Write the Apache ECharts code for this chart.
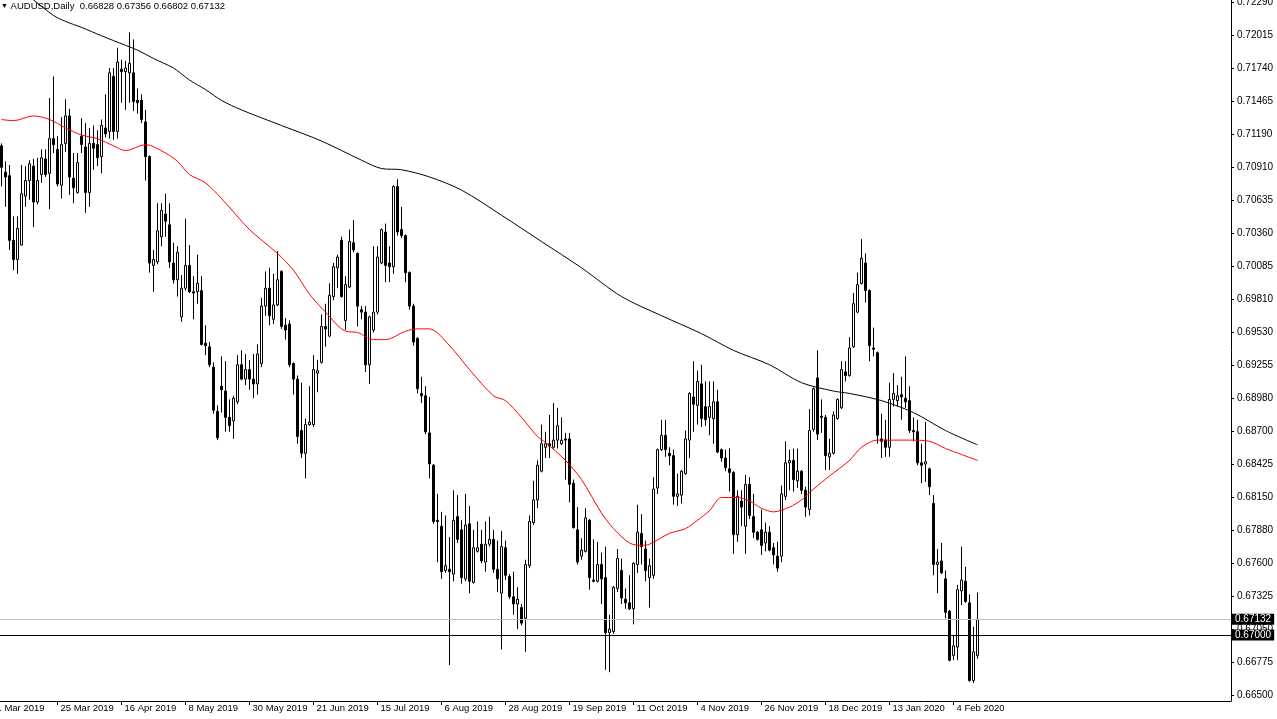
<!DOCTYPE html>
<html><head><meta charset="utf-8">
<script src="https://cdn.jsdelivr.net/npm/echarts@6/dist/echarts.min.js"></script>
<style>html,body{margin:0;padding:0;background:#fff}#c{width:1277px;height:719px}</style>
</head><body><div id="c"></div>
<script>
const symbolName = 'AUDUSD,Daily';
const lastOHLC = [0.66828, 0.67356, 0.66802, 0.67132];

const opens = [.7109,.7087,.7084,.7030,.7014,.7026,.7067,.7080,.7092,.7062,.7085,.7098,.7086,.7115,.7106,.7076,.7111,.7134,.7082,.7070,
.7117,.7108,.7070,.7111,.7110,.7100,.7124,.7121,.7167,.7121,.7173,.7171,.7170,.7170,.7147,.7147,.7129,.7100,.7009,.7012,
.7033,.7052,.7043,.7011,.6997,.6966,.6990,.7009,.6987,.6987,.6988,.6944,.6941,.6924,.6887,.6908,.6904,.6882,.6879,.6895,
.6926,.6914,.6922,.6914,.6910,.6927,.6975,.6990,.6964,.6976,.7004,.6959,.6960,.6927,.6914,.6871,.6852,.6876,.6876,.6919,
.6928,.6958,.6950,.6983,.7007,.7030,.6963,.6991,.7028,.7019,.6972,.6970,.6926,.6955,.6970,.7011,.7037,.7011,.7008,.7075,
.7039,.7034,.7003,.6975,.6948,.6902,.6900,.6869,.6842,.6796,.6791,.6754,.6755,.6751,.6799,.6788,.6747,.6793,.6744,.6770,
.6776,.6761,.6776,.6780,.6755,.6735,.6773,.6749,.6732,.6726,.6723,.6714,.6758,.6794,.6813,.6837,.6857,.6860,.6857,.6863,
.6860,.6864,.6864,.6827,.6788,.6766,.6770,.6796,.6746,.6745,.6759,.6748,.6702,.6703,.6739,.6754,.6730,.6727,.6722,.6759,
.6785,.6772,.6748,.6750,.6823,.6855,.6867,.6852,.6850,.6816,.6817,.6835,.6863,.6899,.6892,.6910,.6891,.6882,.6881,.6895,
.6855,.6848,.6839,.6836,.6784,.6812,.6791,.6826,.6799,.6786,.6788,.6777,.6786,.6773,.6766,.6766,.6816,.6844,.6846,.6829,
.6837,.6821,.6805,.6872,.6915,.6883,.6882,.6849,.6852,.6881,.6890,.6920,.6917,.6941,.6970,.6994,.7011,.6988,.6940,.6936,
.6864,.6863,.6857,.6897,.6896,.6901,.6898,.6896,.6871,.6870,.6844,.6843,.6839,.6810,.6759,.6762,.6747,.6720,.6683,.6690,
.6737,.6745,.6727,.6662,.66828];
const highs = [.7111,.7096,.7093,.7050,.7050,.7093,.7092,.7097,.7098,.7099,.7106,.7106,.7149,.7167,.7117,.7133,.7148,.7140,.7103,.7103,
.7132,.7128,.7124,.7126,.7122,.7131,.7152,.7174,.7174,.7191,.7181,.7180,.7204,.7198,.7157,.7152,.7139,.7101,.7022,.7061,
.7061,.7069,.7061,.7028,.7025,.7001,.7048,.7026,.7000,.7018,.7000,.6959,.6945,.6928,.6892,.6933,.6929,.6897,.6900,.6934,
.6938,.6935,.6930,.6935,.6943,.6982,.7004,.7007,.7002,.7021,.7005,.6965,.6963,.6928,.6917,.6911,.6881,.6908,.6934,.6930,
.6968,.6977,.6994,.7011,.7018,.7033,.7000,.7039,.7047,.7020,.6975,.6975,.6967,.7025,.7025,.7040,.7044,.7025,.7076,.7081,
.7058,.7035,.7004,.6977,.6949,.6916,.6908,.6899,.6843,.6818,.6803,.6800,.6782,.6821,.6817,.6796,.6818,.6808,.6788,.6795,
.6788,.6795,.6799,.6788,.6779,.6787,.6779,.6751,.6753,.6740,.6726,.6763,.6800,.6829,.6846,.6876,.6870,.6884,.6894,.6890,
.6882,.6869,.6869,.6830,.6807,.6781,.6806,.6797,.6780,.6778,.6769,.6774,.6717,.6741,.6772,.6764,.6739,.6750,.6761,.6809,
.6801,.6779,.6764,.6832,.6856,.6880,.6880,.6857,.6855,.6835,.6838,.6871,.6903,.6929,.6921,.6926,.6912,.6912,.6912,.6905,
.6856,.6855,.6856,.6837,.6821,.6821,.6834,.6832,.6818,.6787,.6805,.6794,.6791,.6777,.6778,.6825,.6862,.6855,.6856,.6856,
.6838,.6824,.6889,.6907,.6938,.6897,.6884,.6864,.6887,.6898,.6929,.6929,.6949,.6986,.7003,.7031,.7019,.6989,.6957,.6937,
.6885,.6880,.6911,.6919,.6909,.6916,.6933,.6908,.6882,.6880,.6860,.6878,.6840,.6817,.6772,.6777,.6754,.6721,.6700,.6742,
.6774,.6757,.6734,.6707,.67356];
const lows = [.7075,.7058,.7022,.7005,.7002,.7026,.7058,.7064,.7041,.7060,.7078,.7083,.7056,.7103,.7075,.7065,.7104,.7068,.7061,.7069,
.7103,.7053,.7058,.7089,.7092,.7086,.7116,.7115,.7114,.7115,.7145,.7139,.7145,.7138,.7136,.7128,.7080,.7003,.6987,.7010,
.7025,.7033,.7007,.6994,.6983,.6962,.6988,.6986,.6964,.6977,.6942,.6934,.6924,.6885,.6863,.6886,.6870,.6870,.6864,.6893,
.6913,.6909,.6905,.6898,.6901,.6924,.6967,.6959,.6960,.6975,.6956,.6947,.6924,.6901,.6860,.6848,.6831,.6875,.6874,.6903,
.6927,.6941,.6949,.6980,.6990,.6982,.6955,.6990,.7020,.6958,.6964,.6920,.6910,.6953,.6968,.7010,.6995,.6995,.7002,.7034,
.7032,.6995,.6972,.6942,.6902,.6894,.6868,.6831,.6793,.6761,.6747,.6752,.6675,.6745,.6777,.6743,.6745,.6735,.6743,.6769,
.6760,.6753,.6774,.6752,.6736,.6688,.6746,.6730,.6717,.6705,.6708,.6686,.6756,.6792,.6806,.6836,.6848,.6848,.6856,.6856,
.6859,.6830,.6811,.6789,.6759,.6763,.6769,.6738,.6744,.6744,.6726,.6671,.6669,.6701,.6736,.6726,.6722,.6721,.6709,.6752,
.6759,.6745,.6723,.6747,.6818,.6854,.6849,.6842,.6809,.6808,.6810,.6834,.6848,.6870,.6876,.6874,.6875,.6867,.6860,.6852,
.6845,.6837,.6820,.6768,.6778,.6791,.6768,.6797,.6781,.6779,.6767,.6770,.6770,.6759,.6753,.6761,.6813,.6821,.6820,.6823,
.6818,.6799,.6800,.6870,.6863,.6869,.6838,.6838,.6851,.6880,.6889,.6912,.6916,.6940,.6969,.6993,.6978,.6929,.6933,.6860,
.6848,.6849,.6849,.6891,.6891,.6880,.6890,.6869,.6862,.6842,.6827,.6828,.6817,.6750,.6735,.6751,.6714,.6678,.6679,.6679,
.6725,.6727,.6661,.6660,.66802];
const closes = [.7091,.7083,.7030,.7014,.7040,.7069,.7080,.7094,.7062,.7080,.7099,.7085,.7115,.7110,.7077,.7110,.7134,.7083,.7074,.7095,
.7110,.7070,.7111,.7107,.7099,.7126,.7119,.7170,.7121,.7179,.7171,.7174,.7178,.7146,.7145,.7131,.7100,.7011,.7014,.7038,
.7055,.7046,.7012,.6997,.7020,.6990,.7009,.6987,.6986,.6994,.6943,.6942,.6926,.6888,.6865,.6905,.6882,.6875,.6898,.6926,
.6914,.6922,.6914,.6910,.6935,.6975,.6990,.6967,.6976,.6997,.6958,.6955,.6926,.6914,.6866,.6852,.6876,.6878,.6922,.6921,
.6958,.6956,.6984,.7008,.7016,.6983,.6993,.7029,.7022,.6975,.6970,.6926,.6966,.6970,.7016,.7039,.7009,.7008,.7075,.7037,
.7034,.7003,.6975,.6945,.6906,.6900,.6870,.6843,.6795,.6795,.6753,.6758,.6753,.6796,.6780,.6748,.6792,.6745,.6773,.6773,
.6762,.6776,.6780,.6755,.6747,.6774,.6750,.6732,.6726,.6730,.6710,.6759,.6795,.6813,.6842,.6860,.6860,.6858,.6863,.6875,
.6863,.6863,.6826,.6790,.6761,.6771,.6798,.6748,.6745,.6759,.6747,.6702,.6705,.6740,.6764,.6731,.6727,.6722,.6760,.6786,
.6774,.6754,.6758,.6822,.6855,.6867,.6855,.6850,.6816,.6818,.6837,.6864,.6902,.6893,.6912,.6881,.6880,.6891,.6895,.6853,
.6848,.6840,.6836,.6784,.6816,.6807,.6826,.6800,.6786,.6780,.6775,.6786,.6771,.6767,.6756,.6818,.6844,.6846,.6830,.6837,
.6821,.6807,.6871,.6906,.6868,.6882,.6850,.6852,.6884,.6897,.6922,.6917,.6940,.6977,.6993,.7015,.6988,.6942,.6939,.6867,
.6862,.6857,.6897,.6902,.6900,.6899,.6895,.6871,.6870,.6844,.6842,.6845,.6824,.6759,.6761,.6752,.6719,.6679,.6691,.6738,
.6746,.6728,.6662,.6686,.67132];

// moving averages at sample bars (bar index, value)
const maBlackBars = [6,8,13,16,20,25,31,34,38,43,47,51,55,60,70,80,90,95,100,107,115,125,135,145,155,165,175,183,192,200,208,212,220,228,236,244];
const maBlackVals = [.7236,.7231,.7218,.7213,.7208,.7201,.7193,.7189,.7182,.7174,.7164,.7156,.7147,.7139,.7126,.7113,.7097,.7090,.7089,.7083,.7072,.7051,.7029,.7007,.6983,.6967,.6952,.6938,.6926,.6911,.6904,.6902,.6896,.6886,.6871,.6859];
const maRedBars = [0,3,8,12,16,20,24,28,31,36,41,44,47,51,55,62,69,73,77,81,86,89,93,96,101,104,107,112,117,123,126,130,134,136,141,145,150,153,157,160,162,167,171,174,177,180,184,187,190,193,197,200,203,207,212,215,219,227,232,236,240,244];
const maRedVals = [.7131,.7130,.7134,.7131,.7124,.7118,.7115,.7109,.7105,.7110,.7103,.7096,.7085,.7078,.7065,.7039,.7019,.7005,.6985,.6970,.6954,.6953,.6947,.6947,.6954,.6956,.6956,.6942,.6922,.6900,.6896,.6882,.6866,.6861,.6846,.6830,.6802,.6789,.6777,.6775,.6776,.6785,.6789,.6796,.6804,.6815,.6815,.6812,.6806,.6803,.6807,.6813,.6822,.6833,.6846,.6857,.6863,.6863,.6862,.6856,.6851,.6846];

const dateLabels = ['1 Mar 2019','25 Mar 2019','16 Apr 2019','8 May 2019','30 May 2019','21 Jun 2019','15 Jul 2019','6 Aug 2019','28 Aug 2019','19 Sep 2019','11 Oct 2019','4 Nov 2019','26 Nov 2019','18 Dec 2019','13 Jan 2020','4 Feb 2020'];
const firstLabelBar = -2, LABEL_STEP = 16;
const priceTicks = [0.72290,0.72015,0.71740,0.71465,0.71190,0.70910,0.70635,0.70360,0.70085,0.69810,0.69530,0.69255,0.68980,0.68700,0.68425,0.68150,0.67880,0.67600,0.67325,0.67050,0.66775,0.66500];
const bidPrice = 0.67132;
const levelPrice = 0.67000;

const dateBars = dateLabels.map((_, k) => firstLabelBar + k * LABEL_STEP);
const candleData = opens.map((o, i) => [i, o, closes[i], lows[i], highs[i]]);
const pairs = (bars, vals) => bars.map((b, k) => [b, vals[k]]);
const FONT = 'Liberation Sans';
const priceLabel = {show: true, position: 'end', distance: 1, formatter: p => p.value.toFixed(5),
  backgroundColor: '#000', color: '#fff', fontSize: 10, fontFamily: FONT, padding: [1, 3, 0, 3]};

// plot area: 4 px per bar
const GRID_LEFT = -8, GRID_RIGHT = 46, PX_PER_BAR = 4, X_MIN = -2.375;
const X_MAX = X_MIN + (1277 - GRID_LEFT - GRID_RIGHT) / PX_PER_BAR;

const chart = echarts.init(document.getElementById('c'), null, {renderer: 'canvas'});
chart.setOption({
  animation: false,
  backgroundColor: '#ffffff',
  title: {
    text: '{t|▼} ' + symbolName + '  ' + lastOHLC.map(v => v.toFixed(5)).join(' '),
    left: 1, top: 0, padding: 0,
    textStyle: {fontSize: 9.5, fontWeight: 'normal', fontFamily: FONT, color: '#000', lineHeight: 12,
      rich: {t: {fontSize: 7, color: '#000'}}}
  },
  grid: {left: GRID_LEFT, right: GRID_RIGHT, top: 0, bottom: 18, containLabel: false, outerBoundsMode: 'none'},
  xAxis: {
    type: 'value', min: X_MIN, max: X_MAX,
    axisLine: {show: true, onZero: false, lineStyle: {color: '#000', width: 1}},
    axisTick: {show: true, customValues: dateBars, length: 4, lineStyle: {color: '#000'}},
    axisLabel: {
      customValues: dateBars, align: 'left', margin: 2, padding: [0, 0, 0, 3],
      fontSize: 9.5, fontFamily: FONT, color: '#000', hideOverlap: false,
      formatter: v => dateLabels[Math.round((v - firstLabelBar) / LABEL_STEP)]
    },
    splitLine: {show: false}
  },
  yAxis: {
    type: 'value', position: 'right', scale: true,
    min: 0.66449, max: 0.72309,
    axisLine: {show: true, onZero: false, lineStyle: {color: '#000', width: 1}},
    axisTick: {show: true, length: 3, customValues: priceTicks, lineStyle: {color: '#000'}},
    axisLabel: {customValues: priceTicks, margin: 6, fontSize: 10, fontFamily: FONT, color: '#000',
      formatter: v => v.toFixed(5)},
    splitLine: {show: false}
  },
  series: [
    {
      type: 'candlestick', data: candleData, barWidth: 2,
      encode: {x: 0, y: [1, 2, 3, 4]},
      itemStyle: {color: '#ffffff', color0: '#000000', borderColor: '#000000', borderColor0: '#000000', borderWidth: 1},
      markLine: {
        silent: true, symbol: ['none', 'none'], animation: false, precision: 5,
        data: [{yAxis: levelPrice}],
        lineStyle: {color: '#000000', width: 1, type: 'solid'},
        label: priceLabel
      }
    },
    {type: 'line', data: pairs(maRedBars, maRedVals), symbol: 'none', smooth: 0.3,
      lineStyle: {color: '#ff0000', width: 1}, z: 3,
      markLine: {
        silent: true, symbol: ['none', 'none'], animation: false, precision: 5,
        data: [{yAxis: bidPrice}],
        lineStyle: {color: '#c0c0c0', width: 1, type: 'solid'},
        label: priceLabel
      }},
    {type: 'line', data: pairs(maBlackBars, maBlackVals), symbol: 'none', smooth: 0.3,
      lineStyle: {color: '#000000', width: 1}, z: 3}
  ]
});
</script></body></html>
